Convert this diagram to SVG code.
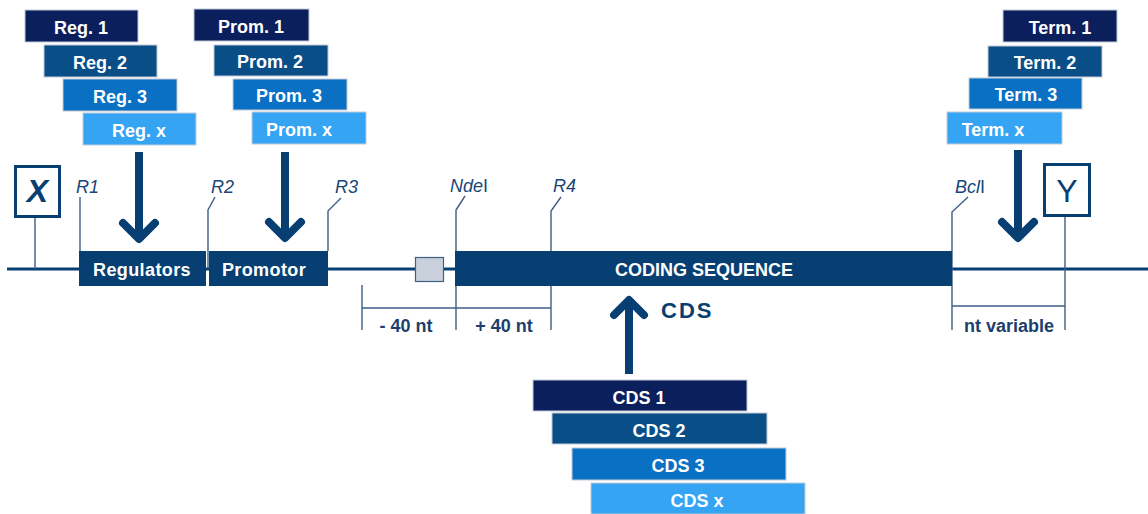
<svg xmlns="http://www.w3.org/2000/svg" width="1148" height="514" viewBox="0 0 1148 514">
<style>
.c1{fill:#0b1f5c}
.c2{fill:#0a4e88}
.c3{fill:#0a70c4}
.cx{fill:#35a4f3}
.part rect{stroke:#c3ccd8;stroke-width:1}
.bt{font-family:"Liberation Sans",Arial,sans-serif;font-weight:bold;font-size:18px;fill:#ffffff;text-anchor:middle}
.blk{fill:#073f72}
.lbl{font-family:"Liberation Sans",Arial,sans-serif;font-style:italic;font-size:18px;fill:#174677}
.tick{fill:none;stroke:#3b5f86;stroke-width:1.4}
.dim{font-family:"Liberation Sans",Arial,sans-serif;font-weight:bold;font-size:18px;fill:#1d3f6e;text-anchor:middle}
.arr{fill:none;stroke:#073f72;stroke-width:8;stroke-linecap:round;stroke-linejoin:round}
.shaft{fill:none;stroke:#073f72;stroke-width:8}
</style>
<rect width="1148" height="514" fill="#ffffff"/>

<g id="connectors">
  <line x1="7" y1="269" x2="1148" y2="269" stroke="#073f72" stroke-width="3"/>
  <polyline class="tick" points="35,218 35,269"/>
  <polyline class="tick" points="80,197 80,251"/>
  <polyline class="tick" points="215,197 208,210 208,268"/>
  <polyline class="tick" points="341,198 328,211 328,251"/>
  <polyline class="tick" points="465,196 456,210 456,330"/>
  <polyline class="tick" points="561,197 551,211 551,330"/>
  <polyline class="tick" points="968,197 952,212 952,330"/>
  <polyline class="tick" points="1065,217 1065,330"/>
  <polyline class="tick" points="362,285 362,330"/>
  <line class="tick" x1="362" y1="308" x2="551" y2="308"/>
  <line class="tick" x1="952" y1="306" x2="1065" y2="306"/>
  <line class="shaft" x1="139" y1="152" x2="139" y2="236"/>
  <polyline class="arr" points="123,223 139,239 155,223"/>
  <line class="shaft" x1="285" y1="152" x2="285" y2="235"/>
  <polyline class="arr" points="269,222 285,238 301,222"/>
  <line class="shaft" x1="1018" y1="150" x2="1018" y2="235"/>
  <polyline class="arr" points="1002,222 1018,238 1034,222"/>
  <line class="shaft" x1="629" y1="302" x2="629" y2="374"/>
  <polyline class="arr" points="614,315 629,300 644,315"/>
</g>

<g id="dimension-labels">
  <text class="dim" x="406" y="332">- 40 nt</text>
  <text class="dim" x="504" y="332">+ 40 nt</text>
  <text class="dim" x="1009" y="332">nt variable</text>
  <text x="661" y="318" font-family="Liberation Sans, Arial, sans-serif" font-weight="bold" font-size="22" letter-spacing="2" fill="#073f72">CDS</text>
</g>

<g id="site-labels">
  <text class="lbl" x="76" y="193">R1</text>
  <text class="lbl" x="211" y="193">R2</text>
  <text class="lbl" x="335" y="193">R3</text>
  <text class="lbl" x="450" y="192">Nde<tspan font-style="normal">I</tspan></text>
  <text class="lbl" x="553" y="192">R4</text>
  <text class="lbl" x="955" y="193">Bcl<tspan font-style="normal">I</tspan></text>
</g>

<g id="node-X">
  <rect x="15.5" y="166.5" width="44" height="50" fill="#ffffff" stroke="#073f72" stroke-width="3"/>
  <text x="37.5" y="202" font-family="Liberation Sans, Arial, sans-serif" font-weight="bold" font-style="italic" font-size="32" fill="#073f72" text-anchor="middle">X</text>
</g>
<g id="node-Y">
  <rect x="1044.5" y="164.5" width="45" height="51" fill="#ffffff" stroke="#073f72" stroke-width="3"/>
  <text x="1067" y="202" font-family="Liberation Sans, Arial, sans-serif" font-size="32" fill="#073f72" text-anchor="middle">Y</text>
</g>

<g id="node-regulators">
  <rect class="blk" x="79" y="251" width="127" height="35"/>
  <text class="bt" x="142" y="276" letter-spacing="0.4">Regulators</text>
</g>
<g id="node-promotor">
  <rect class="blk" x="209" y="251" width="119" height="35"/>
  <text class="bt" x="264" y="276" letter-spacing="0.4">Promotor</text>
</g>
<g id="node-rbs">
  <rect x="415.5" y="257.5" width="28" height="24" fill="#c9d0dc" stroke="#3f5f86" stroke-width="1.2"/>
</g>
<g id="node-cds-main">
  <rect class="blk" x="455" y="251" width="497" height="35"/>
  <text class="bt" x="704" y="276">CODING SEQUENCE</text>
</g>

<g id="node-reg" class="part">
  <rect class="c1" x="25" y="10" width="113" height="32"/>
  <rect class="c2" x="44" y="45" width="113" height="32"/>
  <rect class="c3" x="63" y="79" width="114" height="32"/>
  <rect class="cx" x="83" y="113" width="113" height="32"/>
  <text class="bt" x="81" y="34">Reg. 1</text>
  <text class="bt" x="100" y="69">Reg. 2</text>
  <text class="bt" x="120" y="103">Reg. 3</text>
  <text class="bt" x="139" y="137">Reg. x</text>
</g>

<g id="node-prom" class="part">
  <rect class="c1" x="194" y="9" width="115" height="32"/>
  <rect class="c2" x="214" y="45" width="114" height="31"/>
  <rect class="c3" x="233" y="79" width="114" height="31"/>
  <rect class="cx" x="252" y="112" width="114" height="32"/>
  <text class="bt" x="251" y="33">Prom. 1</text>
  <text class="bt" x="270" y="68">Prom. 2</text>
  <text class="bt" x="289" y="102">Prom. 3</text>
  <text class="bt" x="299" y="136">Prom. x</text>
</g>

<g id="node-term" class="part">
  <rect class="c1" x="1003" y="10" width="114" height="32"/>
  <rect class="c2" x="988" y="46" width="114" height="31"/>
  <rect class="c3" x="969" y="78" width="113" height="31"/>
  <rect class="cx" x="947" y="112" width="115" height="32"/>
  <text class="bt" x="1060" y="34">Term. 1</text>
  <text class="bt" x="1045" y="69">Term. 2</text>
  <text class="bt" x="1026" y="101">Term. 3</text>
  <text class="bt" x="993" y="136">Term. x</text>
</g>

<g id="node-cds" class="part">
  <rect class="c1" x="533" y="380" width="214" height="31"/>
  <rect class="c2" x="552" y="413" width="215" height="31"/>
  <rect class="c3" x="572" y="448" width="214" height="32"/>
  <rect class="cx" x="591" y="483" width="214" height="31"/>
  <text class="bt" x="639" y="404">CDS 1</text>
  <text class="bt" x="659" y="437">CDS 2</text>
  <text class="bt" x="678" y="472">CDS 3</text>
  <text class="bt" x="697" y="507">CDS x</text>
</g>
</svg>
